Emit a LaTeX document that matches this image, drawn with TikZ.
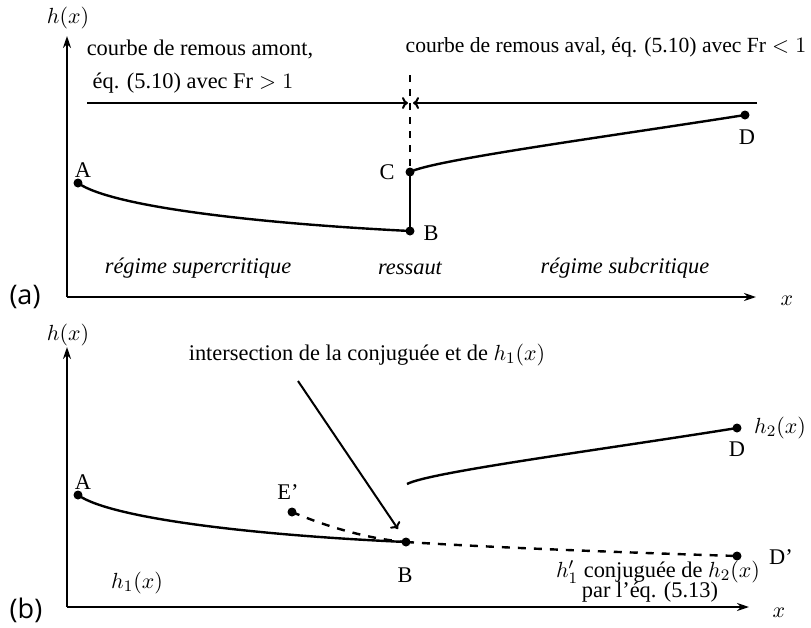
\documentclass[tikz,border=0pt]{standalone}
\usepackage{fontspec}
\setmainfont{Liberation Serif}
\newfontfamily\panelfont{Open Sans}
\usetikzlibrary{arrows.meta}

\begin{document}
\begin{tikzpicture}[
    x=0.5pt, y=-0.5pt,
    txt/.style={font=\fontsize{11.2}{13}\selectfont, inner sep=0pt},
    regime/.style={txt, font=\fontsize{11.2}{13}\selectfont\itshape},
    panel/.style={font=\panelfont\fontsize{13.5}{15}\selectfont, inner sep=0pt},
    axis/.style={line width=1pt, -{Stealth[length=6pt,width=4pt]}},
    curve/.style={line width=1.2pt},
    flow/.style={line width=1pt, -{To[length=3pt,width=6pt]}},
    conj/.style={line width=1.2pt, dash pattern=on 4pt off 4pt},
    pt/.style={circle, fill, inner sep=0pt, minimum size=4.5pt},
    >=Stealth
  ]
  \useasboundingbox (0,0) rectangle (811,628);

  % (a) ligne d'eau avec ressaut
  \coordinate (oa) at (67,297);
  \coordinate (ya) at (67,36);
  \coordinate (xa) at (756,297);
  \draw[axis] (oa) -- (ya);
  \draw[axis] (oa) -- (xa);
  \node[txt] (hxa) at (68,18) {$h(x)$};
  \node[txt] (xlaba) at (787,301) {$x$};
  \node[panel] (pa) at (25,297) {(a)};

  \node[txt] (amont) at (200,49) {courbe de remous amont,};
  \node[txt] (amonteq) at (193,83) {éq. (5.10) avec $\mathrm{Fr}>1$};
  \node[txt, font=\fontsize{10.8}{13}\selectfont] (aval) at (606,47) {courbe de remous aval, éq. (5.10) avec $\mathrm{Fr}<1$};

  \coordinate (fa0) at (87,103);
  \coordinate (fa1) at (408,103);
  \coordinate (fb0) at (757,103);
  \coordinate (fb1) at (413,103);
  \coordinate (jtop) at (410,75);
  \draw[flow] (fa0) -- (fa1);
  \draw[flow] (fb0) -- (fb1);

  \node[pt] (Aa) at (78,183) {};
  \node[pt] (Ba) at (410,231) {};
  \node[pt] (Ca) at (410,172) {};
  \node[pt] (Da) at (745,115) {};
  \node[txt] (labAa) at (83,170) {A};
  \node[txt] (labBa) at (431,233) {B};
  \node[txt] (labCa) at (387,172) {C};
  \node[txt] (labDa) at (747,137) {D};

  \draw[line width=1pt, dash pattern=on 3.5pt off 3.5pt] (jtop) -- (Ca.center);
  \draw[curve] (Aa.center) .. controls (110,206) and (250,223) .. (Ba.center);
  \draw[curve] (Ba.center) -- (Ca.center);
  \draw[curve] (Ca.center) .. controls (433,160) and (605,137) .. (Da.center);

  \node[regime] (super) at (198,268) {régime supercritique};
  \node[regime] (ressaut) at (410,268) {ressaut};
  \node[regime] (sub) at (625,268) {régime subcritique};

  % (b) construction par la conjuguee
  \coordinate (ob) at (67,607);
  \coordinate (yb) at (67,347);
  \coordinate (xb) at (749,607);
  \draw[axis] (ob) -- (yb);
  \draw[axis] (ob) -- (xb);
  \node[txt] (hxb) at (68,335) {$h(x)$};
  \node[txt] (xlabb) at (779,613) {$x$};
  \node[panel] (pb) at (26,610) {(b)};

  \node[txt] (inter) at (367,355) {intersection de la conjuguée et de $h_1(x)$};
  \coordinate (i0) at (298,381);
  \coordinate (i1) at (398,529);
  \draw[flow] (i0) -- (i1);

  \node[pt] (Ab) at (78,495) {};
  \node[pt] (Bb) at (406,542) {};
  \node[pt] (Eb) at (292,512) {};
  \node[pt] (Db) at (737,428) {};
  \node[pt] (Dpb) at (737,556) {};
  \coordinate (h2b) at (407,484);
  \node[txt] (labAb) at (83,482) {A};
  \node[txt] (labBb) at (405,575) {B};
  \node[txt] (labEb) at (288,492) {E'};
  \node[txt] (labDb) at (737,449) {D};
  \node[txt] (labDpb) at (781,557) {D'};
  \node[txt] (h2lab) at (780,428) {$h_2(x)$};
  \node[txt] (h1lab) at (137,583) {$h_1(x)$};
  \node[txt] (conjlab) at (658,572) {$h'_1$ conjuguée de $h_2(x)$};
  \node[txt] (conjlab2) at (650,592) {par l’éq. (5.13)};

  \draw[curve] (Ab.center) .. controls (110,518) and (250,535) .. (Bb.center);
  \draw[conj] (Eb.center) .. controls (330,528) and (370,539) .. (Bb.center);
  \draw[conj] (Bb.center) .. controls (500,548) and (640,553) .. (Dpb.center);
  \draw[curve] (h2b) .. controls (430,472) and (600,450) .. (Db.center);
\end{tikzpicture}
\end{document}
